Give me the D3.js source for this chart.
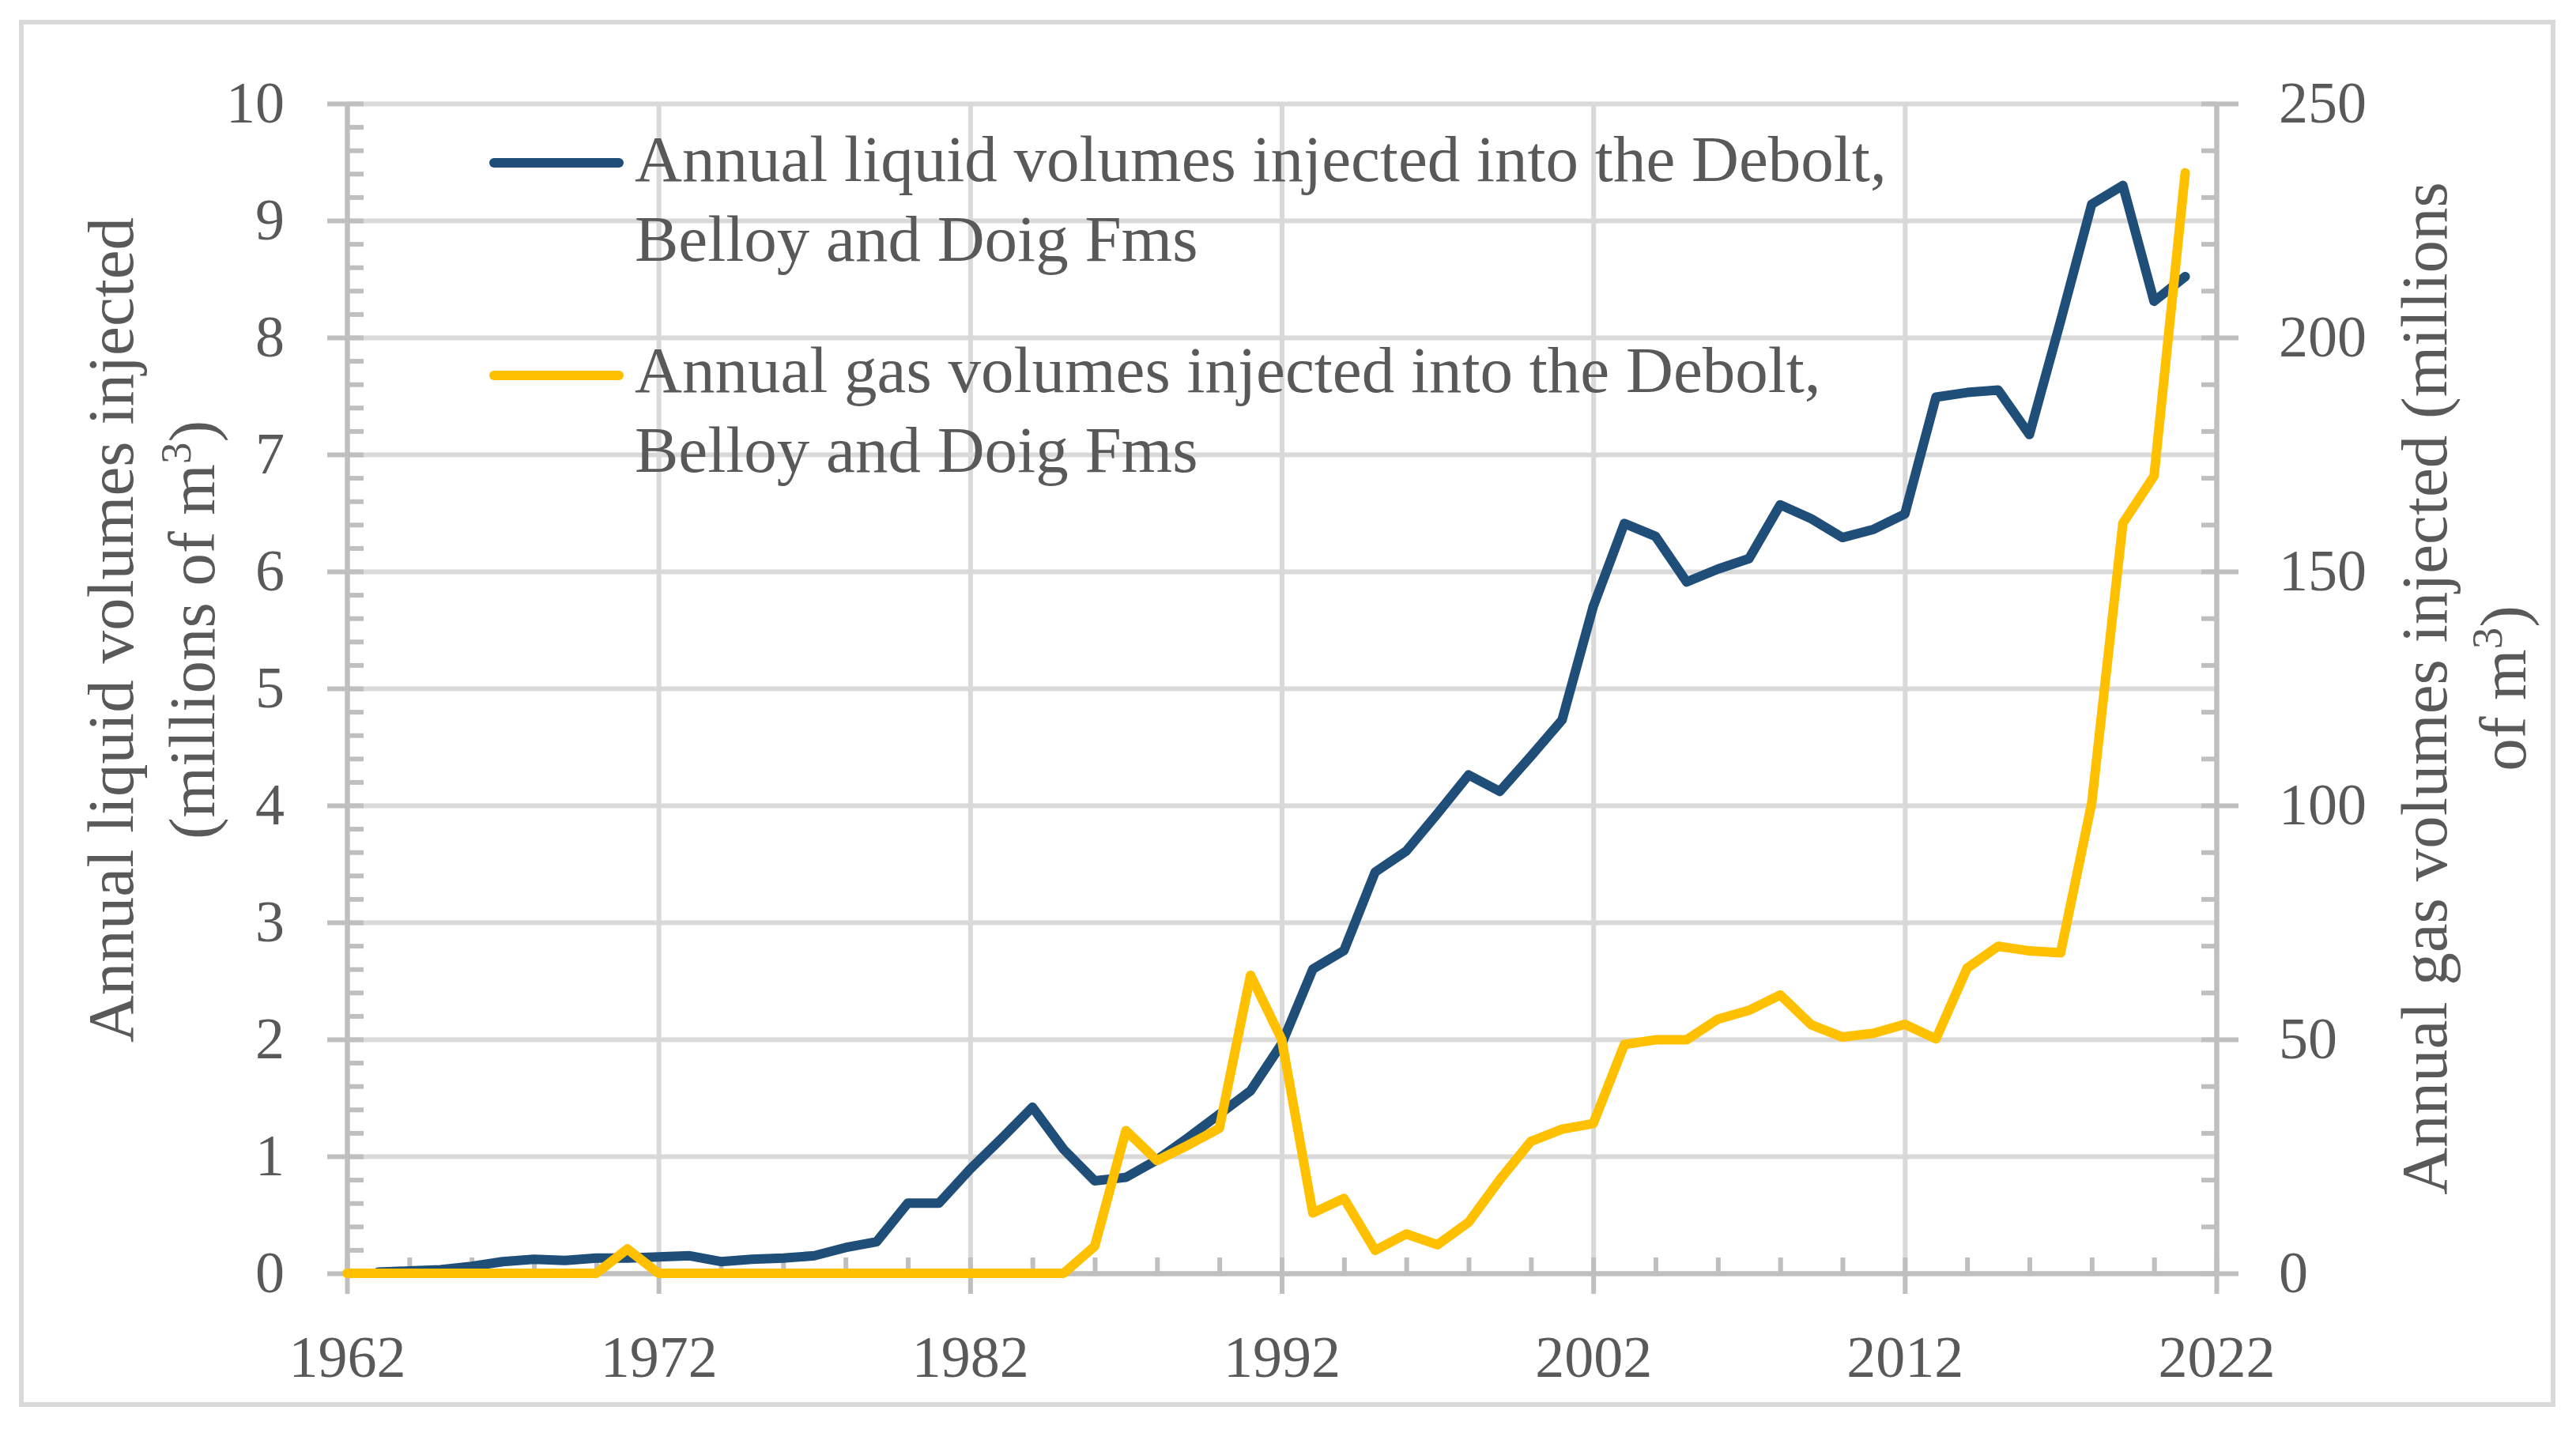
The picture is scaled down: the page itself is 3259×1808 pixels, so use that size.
<!DOCTYPE html>
<head>
  <meta charset="utf-8">
  <script src="https://d3js.org/d3.v7.min.js"></script>
  <style>
    body { margin: 0; background: #fff; }
    svg { display: block; }
    text { font-family: "Liberation Serif", "Times New Roman", serif; fill: #595959; }
  </style>
</head>

<body>
<script type="text/javascript">

    // years on the x axis
    var years = [1962, 1963, 1964, 1965, 1966, 1967, 1968, 1969, 1970, 1971,
                 1972, 1973, 1974, 1975, 1976, 1977, 1978, 1979, 1980, 1981,
                 1982, 1983, 1984, 1985, 1986, 1987, 1988, 1989, 1990, 1991,
                 1992, 1993, 1994, 1995, 1996, 1997, 1998, 1999, 2000, 2001,
                 2002, 2003, 2004, 2005, 2006, 2007, 2008, 2009, 2010, 2011,
                 2012, 2013, 2014, 2015, 2016, 2017, 2018, 2019, 2020, 2021];

    // liquid, millions of m3 (left axis) - no value for 1962
    var liquid = [null, 0.01, 0.02, 0.03, 0.06, 0.10, 0.12, 0.11, 0.13, 0.13,
                  0.14, 0.15, 0.10, 0.12, 0.13, 0.15, 0.22, 0.27, 0.60, 0.60,
                  0.89, 1.15, 1.42, 1.06, 0.79, 0.82, 0.97, 1.16, 1.36, 1.56,
                  1.96, 2.60, 2.76, 3.43, 3.61, 3.93, 4.26, 4.12, 4.42, 4.73,
                  5.70, 6.41, 6.30, 5.91, 6.02, 6.11, 6.57, 6.45, 6.29, 6.36,
                  6.49, 7.49, 7.53, 7.55, 7.17, 8.14, 9.14, 9.30, 8.31, 8.52];

    // gas, millions of m3 (right axis)
    var gas = [0, 0, 0, 0, 0, 0, 0, 0, 0, 5.2,
               0, 0, 0, 0, 0, 0, 0, 0, 0, 0,
               0, 0, 0, 0, 5.8, 30.5, 24.1, 27.4, 31.0, 63.7,
               50.0, 12.9, 16.0, 4.9, 8.4, 6.1, 10.9, 20.0, 28.2, 30.8,
               32.0, 48.9, 49.9, 49.9, 54.3, 56.2, 59.5, 53.1, 50.5, 51.3,
               53.2, 50.1, 65.2, 69.9, 68.9, 68.5, 100.5, 160.3, 170.4, 235.2];

    var xTicks = [1962, 1972, 1982, 1992, 2002, 2012, 2022];
    var leftTicks = [0, 1, 2, 3, 4, 5, 6, 7, 8, 9, 10];
    var rightTicks = [0, 50, 100, 150, 200, 250];

    var legendLabels = [
        ["Annual liquid volumes injected into the Debolt,", "Belloy and Doig Fms"],
        ["Annual gas volumes injected into the Debolt,", "Belloy and Doig Fms"]
    ];

    var width = 3259, height = 1808;
    var plotL = 439, plotR = 2804, plotT = 131, plotB = 1611;
    var blue = "#1f4e79", yellow = "#ffc000";
    var gridColor = "#d9d9d9", axisColor = "#bfbfbf";

    var svg = d3.select("body").append("svg")
        .attr("width", width)
        .attr("height", height);

    svg.append("rect")
        .attr("width", width).attr("height", height)
        .attr("fill", "#fff");

    // outer frame
    svg.append("rect")
        .attr("x", 27).attr("y", 28)
        .attr("width", 3203).attr("height", 1749)
        .attr("fill", "none")
        .attr("stroke", gridColor)
        .attr("stroke-width", 6);

    // scales
    var x = d3.scaleLinear().domain([1962, 2022]).range([plotL, plotR]);
    var y = d3.scaleLinear().domain([0, 10]).range([plotB, plotT]);
    var y2 = d3.scaleLinear().domain([0, 250]).range([plotB, plotT]);

    function style(g, size) {
        g.selectAll(".domain").attr("stroke", axisColor).attr("stroke-width", 6);
        g.selectAll(".tick line").attr("stroke", axisColor).attr("stroke-width", 6);
        g.selectAll("text").attr("font-size", size).attr("fill", "#595959")
            .attr("font-family", "Liberation Serif");
    }

    // gridlines
    var gy = svg.append("g")
        .attr("transform", "translate(" + plotL + ",0)")
        .call(d3.axisLeft(y).tickValues(leftTicks.slice(1)).tickSize(-(plotR - plotL)).tickFormat(""));
    gy.select(".domain").remove();
    gy.selectAll(".tick line").attr("stroke", gridColor).attr("stroke-width", 6);

    var gx = svg.append("g")
        .attr("transform", "translate(0," + plotB + ")")
        .call(d3.axisBottom(x).tickValues(xTicks.slice(1, -1)).tickSize(-(plotB - plotT)).tickFormat(""));
    gx.select(".domain").remove();
    gx.selectAll(".tick line").attr("stroke", gridColor).attr("stroke-width", 6);

    // left axis: inner ticks (major + minor), then outer major ticks with labels
    var leftMinor = d3.range(0, 10.001, 0.2);
    svg.append("g")
        .attr("transform", "translate(" + plotL + ",0)")
        .call(d3.axisRight(y).tickValues(leftMinor).tickSize(21).tickSizeOuter(0).tickFormat(""))
        .call(style, 74);
    svg.append("g")
        .attr("transform", "translate(" + plotL + ",0)")
        .call(d3.axisLeft(y).tickValues(leftTicks).tickSize(25).tickSizeOuter(0).tickPadding(54))
        .call(style, 74);

    // right axis
    var rightMinor = d3.range(0, 250.001, 10);
    svg.append("g")
        .attr("transform", "translate(" + plotR + ",0)")
        .call(d3.axisLeft(y2).tickValues(rightMinor).tickSize(19).tickSizeOuter(0).tickFormat(""))
        .call(style, 74);
    svg.append("g")
        .attr("transform", "translate(" + plotR + ",0)")
        .call(d3.axisRight(y2).tickValues(rightTicks).tickSize(28).tickSizeOuter(0).tickPadding(51))
        .call(style, 74);

    // x axis
    var xMinor = d3.range(1962, 2022.001, 2);
    svg.append("g")
        .attr("transform", "translate(0," + plotB + ")")
        .call(d3.axisTop(x).tickValues(xMinor).tickSize(20).tickSizeOuter(0).tickFormat(""))
        .call(style, 74);
    svg.append("g")
        .attr("transform", "translate(0," + plotB + ")")
        .call(d3.axisBottom(x).tickValues(xTicks).tickSize(26).tickSizeOuter(0).tickPadding(52).tickFormat(d3.format("d")))
        .call(style, 74);

    // series
    var liquidLine = d3.line()
        .defined(function(d, i) { return liquid[i] !== null; })
        .x(function(d, i) { return x(years[i]); })
        .y(function(d, i) { return y(liquid[i]); });

    var gasLine = d3.line()
        .x(function(d, i) { return x(years[i]); })
        .y(function(d, i) { return y2(gas[i]); });

    svg.append("path")
        .attr("d", liquidLine(years))
        .attr("fill", "none").attr("stroke", blue)
        .attr("stroke-width", 12)
        .attr("stroke-linejoin", "round").attr("stroke-linecap", "round");

    svg.append("path")
        .attr("d", gasLine(years))
        .attr("fill", "none").attr("stroke", yellow)
        .attr("stroke-width", 12)
        .attr("stroke-linejoin", "round").attr("stroke-linecap", "round");

    // legend
    var legendColors = [blue, yellow];
    var legendY = [206, 475];
    var legendBase = [229, 496];
    legendLabels.forEach(function(lines, k) {
        svg.append("line")
            .attr("x1", 625).attr("x2", 783)
            .attr("y1", legendY[k]).attr("y2", legendY[k])
            .attr("stroke", legendColors[k]).attr("stroke-width", 12)
            .attr("stroke-linecap", "round");
        var t = svg.append("text")
            .attr("x", 803).attr("y", legendBase[k])
            .attr("font-size", 83);
        lines.forEach(function(s, j) {
            t.append("tspan").attr("x", 803).attr("dy", j === 0 ? 0 : 101).text(s);
        });
    });

    // axis titles
    function sup(t) {
        t.append("tspan").attr("font-size", 55).attr("dy", -30).text("3");
        t.append("tspan").attr("dy", 30).text(")");
    }

    svg.append("text")
        .attr("transform", "translate(168,797) rotate(-90)")
        .attr("text-anchor", "middle").attr("font-size", 83)
        .text("Annual liquid volumes injected");
    var lt2 = svg.append("text")
        .attr("transform", "translate(271,797) rotate(-90)")
        .attr("text-anchor", "middle").attr("font-size", 83)
        .text("(millions of m");
    sup(lt2);

    svg.append("text")
        .attr("transform", "translate(3095,871) rotate(-90)")
        .attr("text-anchor", "middle").attr("font-size", 83)
        .text("Annual gas volumes injected (millions");
    var rt2 = svg.append("text")
        .attr("transform", "translate(3195,871) rotate(-90)")
        .attr("text-anchor", "middle").attr("font-size", 83)
        .text("of m");
    sup(rt2);

</script>
</body>
